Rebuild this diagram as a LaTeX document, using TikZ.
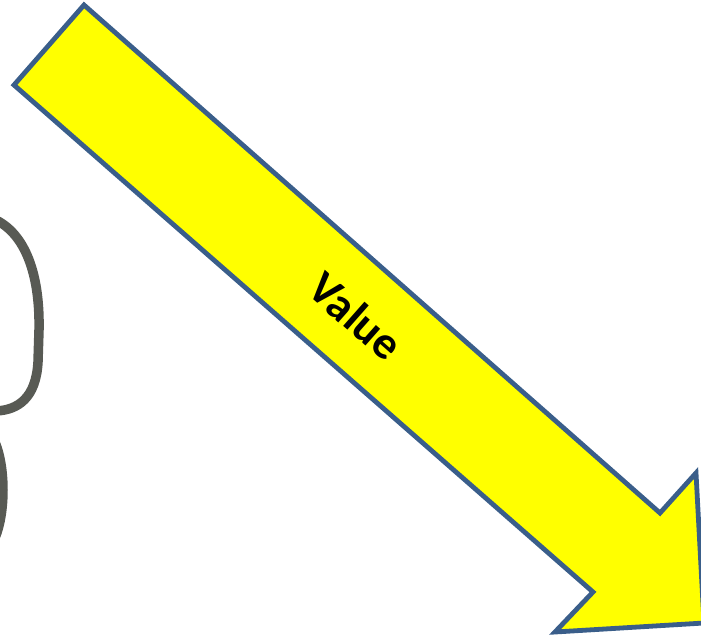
\documentclass[tikz,border=0pt]{standalone}
\usepackage{fontspec}
\setmainfont{Carlito}
\definecolor{arrowfill}{RGB}{255,255,0}
\definecolor{arrowedge}{RGB}{58,94,138}
\definecolor{pencil}{RGB}{88,90,84}
\begin{document}
\begin{tikzpicture}[x=1pt,y=-1pt,
  bigarrow/.style={fill=arrowfill,draw=arrowedge,line width=4.8pt,line join=miter},
  scribble/.style={draw=pencil,line width=9.5pt,line cap=round},
  arrowlabel/.style={font=\bfseries\fontsize{46}{46}\selectfont,text=black,rotate=-41.4,inner sep=0pt}]
\useasboundingbox (0,0) rectangle (701,635);
\clip (0,0) rectangle (701,635);
% hand-drawn curve on the left
\path[scribble] (-4,220) .. controls (28,236) and (40,280) .. (39,330)
  -- (38,362) .. controls (36,398) and (18,410) .. (-4,411);
\path[scribble] (-6,440) .. controls (6,465) and (6,515) .. (-6,540);
% the big arrow
\path[bigarrow] (84,5) -- (660,513) -- (696,473) -- (704,623) -- (555,632)
  -- (593,592) -- (14,85) -- cycle;
\node[arrowlabel] (value) at (356,316) {Value};
\end{tikzpicture}
\end{document}
